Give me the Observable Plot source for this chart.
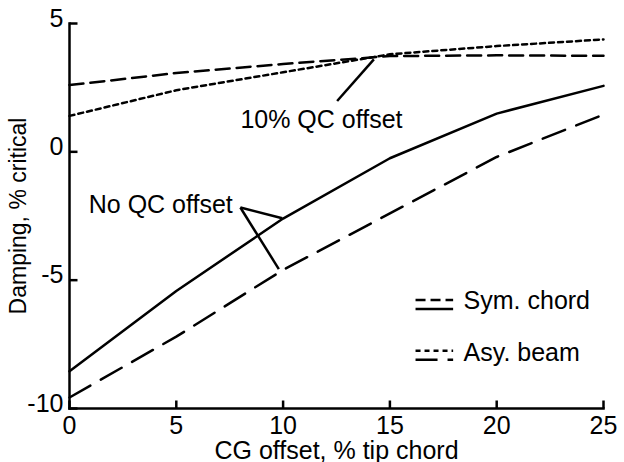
<!DOCTYPE html>
<html><head><meta charset="utf-8">
<script src="https://cdn.jsdelivr.net/npm/d3@7"></script>
<script src="https://cdn.jsdelivr.net/npm/@observablehq/plot@0.6"></script>
<style>
body{margin:0;background:#fff;color:#000}
svg{font-family:"Liberation Sans",Arial,Helvetica,sans-serif}
</style>
</head><body><div id="chart"></div>
<script>
// CG offset, % tip chord
const cgOffset = [0, 5, 10, 15, 20, 25];
// Damping, % critical
const symChordNoQC  = [-8.55, -5.42, -2.6, -0.25, 1.49, 2.57];   // solid
const symChordQC10  = [2.6, 3.07, 3.42, 3.73, 3.76, 3.74];       // medium dash
const asyBeamNoQC   = [-9.57, -7.2, -4.6, -2.4, -0.2, 1.45];     // long dash
const asyBeamQC10   = [1.4, 2.4, 3.1, 3.8, 4.12, 4.38];          // dotted

const xTicks = [0, 5, 10, 15, 20, 25];
const yTicks = [-10, -5, 0, 5];
const xDomain = [0, 25];
const yDomain = [-10, 5];

const legendLabels = ["Sym. chord", "Asy. beam"];
const legendX = [16.2, 17.96];           // sample line x-extent
const legendTextX = [18.45];
const legendTextY = [-5.82, -7.83];
const legendTopY = [-5.77, -7.75];
const legendBottomY = [-6.12, -8.1];

const annoTexts = ["10% QC offset", "No QC offset"];
const annoX = [8.0, 0.9];
const annoY = [1.25, -2.08];
// leader lines: [x1, y1, x2, y2]
const leaders = [
  [12.53, 1.98, 14.25, 3.60],
  [8.0, -2.17, 9.96, -2.59],
  [8.0, -2.17, 9.8, -4.57]
];

const W = 624, H = 462, ML = 69, MR = 21, MT = 23, MB = 54;
const TICK_PX = 8;
const tickLenY = TICK_PX * (yDomain[1] - yDomain[0]) / (H - MT - MB);
const tickLenX = TICK_PX * (xDomain[1] - xDomain[0]) / (W - ML - MR);

const series = (ys) => cgOffset.map((x, i) => ({x, y: ys[i]}));
const SW = 2.5;
const INK = "black";
const fmt = d => String(d);

// axis lines (left + bottom) as segments
const axisSegs = [
  [xDomain[0], yDomain[0], xDomain[0], yDomain[1]],
  [xDomain[0], yDomain[0], xDomain[1], yDomain[0]]
];
// inward tick segments
const tickSegs = [
  ...xTicks.map(t => [t, yDomain[0], t, yDomain[0] + tickLenY]),
  ...yTicks.map(t => [xDomain[0], t, xDomain[0] + tickLenX, t])
];

const chart = Plot.plot({
  width: W,
  height: H,
  marginLeft: ML,
  marginRight: MR,
  marginTop: MT,
  marginBottom: MB,
  style: {fontSize: "25px", fontFamily: "'Liberation Sans', Arial, sans-serif", background: "white", color: "black"},
  x: {domain: xDomain},
  y: {domain: yDomain},
  marks: [
    // tick labels
    Plot.axisX({ticks: xTicks, tickSize: 0, tickPadding: 8, tickFormat: fmt, label: null, fill: INK}),
    Plot.axisY({ticks: yTicks, tickSize: 0, tickPadding: 6, dy: -5, tickFormat: fmt, label: null, fill: INK}),
    Plot.text(["CG offset, % tip chord"], {frameAnchor: "bottom", dy: 50, lineAnchor: "bottom", textAnchor: "middle", fill: INK}),
    Plot.text(["Damping, % critical"], {frameAnchor: "left", dx: -51, rotate: -90, lineAnchor: "middle", textAnchor: "middle", fontSize: 23, fill: INK}),

    Plot.line(series(symChordNoQC), {x: "x", y: "y", stroke: INK, strokeWidth: SW}),
    Plot.line(series(symChordQC10), {x: "x", y: "y", stroke: INK, strokeWidth: SW, strokeDasharray: "14,7"}),
    Plot.line(series(asyBeamNoQC), {x: "x", y: "y", stroke: INK, strokeWidth: SW, strokeDasharray: "24,12"}),
    Plot.line(series(asyBeamQC10), {x: "x", y: "y", stroke: INK, strokeWidth: SW, strokeDasharray: "5,4"}),

    Plot.link(leaders, {x1: d => d[0], y1: d => d[1], x2: d => d[2], y2: d => d[3], stroke: INK, strokeWidth: SW}),
    Plot.text(annoTexts, {x: (d, i) => annoX[i], y: (d, i) => annoY[i], text: d => d, textAnchor: "start", lineAnchor: "middle", fill: INK}),

    // legend
    Plot.link([0], {x1: legendX[0], x2: legendX[1], y1: legendTopY[0], y2: legendTopY[0], stroke: INK, strokeWidth: SW, strokeDasharray: "10,5"}),
    Plot.link([0], {x1: legendX[0], x2: legendX[1], y1: legendBottomY[0], y2: legendBottomY[0], stroke: INK, strokeWidth: SW}),
    Plot.link([0], {x1: legendX[0], x2: legendX[1], y1: legendTopY[1], y2: legendTopY[1], stroke: INK, strokeWidth: SW, strokeDasharray: "5,4"}),
    Plot.link([0], {x1: legendX[0], x2: legendX[1], y1: legendBottomY[1], y2: legendBottomY[1], stroke: INK, strokeWidth: SW, strokeDasharray: "22,10"}),
    Plot.text(legendLabels, {x: legendTextX[0], y: (d, i) => legendTextY[i], text: d => d, textAnchor: "start", lineAnchor: "middle", fill: INK}),

    // axis lines and inward ticks (drawn last)
    Plot.link(axisSegs, {x1: d => d[0], y1: d => d[1], x2: d => d[2], y2: d => d[3], stroke: INK, strokeWidth: SW, strokeLinecap: "square"}),
    Plot.link(tickSegs, {x1: d => d[0], y1: d => d[1], x2: d => d[2], y2: d => d[3], stroke: INK, strokeWidth: SW})
  ]
});
document.getElementById("chart").appendChild(chart);
</script>
</body></html>
